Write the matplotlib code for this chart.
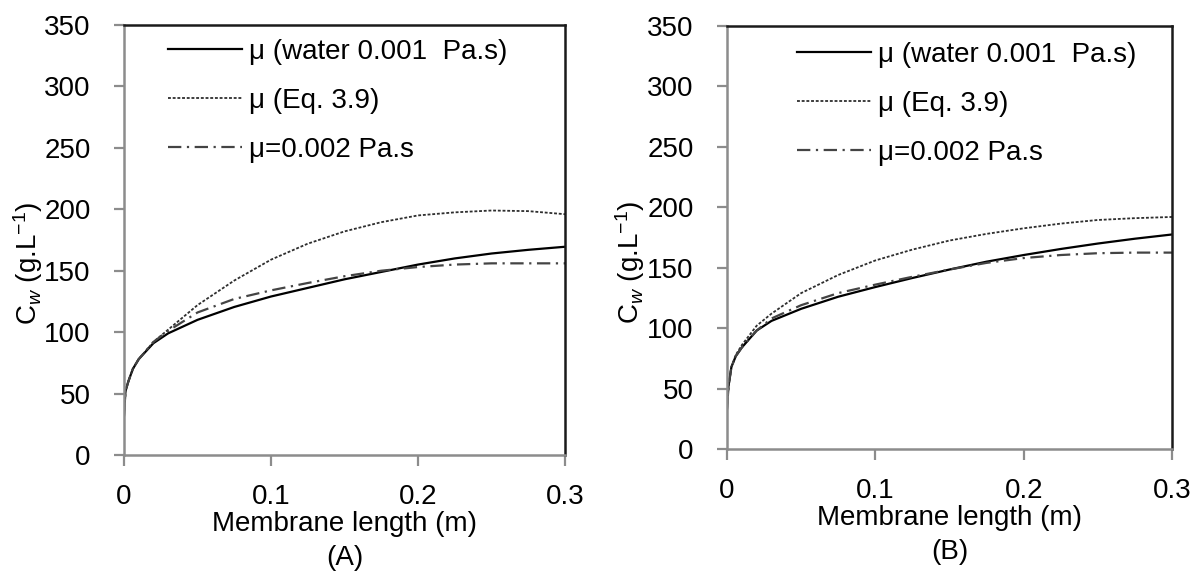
import matplotlib
matplotlib.use("Agg")
import matplotlib.pyplot as plt

plt.rcParams['font.family'] = ['Liberation Sans', 'DejaVu Sans']
plt.rcParams['mathtext.fontset'] = 'custom'
plt.rcParams['mathtext.rm'] = 'Liberation Sans'
plt.rcParams['mathtext.it'] = 'Liberation Sans:italic'

# Membrane length (m)
x = [0, 0.001, 0.003, 0.006, 0.01, 0.02, 0.03, 0.05, 0.075, 0.1, 0.125,
     0.15, 0.175, 0.2, 0.225, 0.25, 0.275, 0.3]

# Panel A  (C_w in g/L)
a_water = [32, 52, 60, 70, 78, 91, 99, 110, 120.5, 129, 136, 143, 149, 155, 160, 164, 167, 169.5]
a_eq39 = [32, 52, 60, 70, 78, 92, 102, 122, 142, 159, 172, 182, 189.5, 195, 197.5, 199, 198.5, 196]
a_mu2 = [32, 52, 60, 70, 78, 92, 101, 116, 127, 134, 140, 145.5, 150, 153, 155, 156, 156, 156]

# Panel B
b_water = [33, 52, 68, 77, 84, 98, 106, 116, 126, 134, 141.5, 148.5, 155, 160.5, 165.5, 170, 174, 177.5]
b_eq39 = [33, 52, 68, 78, 86, 102, 112, 129, 144, 156, 165, 172.5, 178, 182.6, 186.5, 189.5, 191, 192]
b_mu2 = [33, 52, 68, 77, 84, 98, 108, 119, 129, 136, 142.5, 148.5, 154, 158, 160.5, 162, 162.5, 162.5]

labels = ['μ (water 0.001  Pa.s)', 'μ (Eq. 3.9)', 'μ=0.002 Pa.s']
xticks = [0, 0.1, 0.2, 0.3]
xticklabels = ['0', '0.1', '0.2', '0.3']
yticks = [0, 50, 100, 150, 200, 250, 300, 350]
panel_names = ['(A)', '(B)']

W, H = 1198, 577
fig = plt.figure(figsize=(W / 100, H / 100), dpi=100)

FS = 20

def box(l, r, b, t):
    return [l / W, 1 - b / H, (r - l) / W, (b - t) / H]

axes_px = [(124, 565, 455, 25), (727, 1172, 449, 26)]
data = [(a_water, a_eq39, a_mu2), (b_water, b_eq39, b_mu2)]
legend_anchor = [(168, 39), (797, 42)]
ylabel_pos = [(28, 263), (630, 262)]

for i, ((l, r, b, t), (w, e, m)) in enumerate(zip(axes_px, data)):
    ax = fig.add_axes(box(l, r, b, t))
    ax.plot(x, w, color='black', lw=1.6, ls='-', label=labels[0])
    ax.plot(x, e, color='#2e2e2e', lw=1.3, ls=(0, (1.6, 1.0)), label=labels[1])
    ax.plot(x, m, color='#444444', lw=1.6, ls=(0, (6, 2.5, 1, 2.5)), label=labels[2])
    ax.set_xlim(0, 0.3)
    ax.set_ylim(0, 350)
    ax.set_xticks(xticks)
    ax.set_xticklabels(xticklabels)
    ax.set_yticks(yticks)
    for s in ['left', 'bottom']:
        ax.spines[s].set_color('#8c8c8c')
        ax.spines[s].set_linewidth(1.8)
    for s in ['top', 'right']:
        ax.spines[s].set_color('#1a1a1a')
        ax.spines[s].set_linewidth(1.8)
    ax.tick_params(axis='y', direction='out', length=7, width=1.6, color='#8c8c8c',
                   pad=17, labelsize=FS)
    ax.tick_params(axis='x', direction='out', length=8, width=1.6, color='#8c8c8c',
                   pad=13, labelsize=FS)
    lx, ly = legend_anchor[i]
    ax.legend(loc='upper left', bbox_to_anchor=(lx / W, 1 - ly / H),
              bbox_transform=fig.transFigure, frameon=False, fontsize=FS,
              handlelength=2.65, handletextpad=0.25, labelspacing=0.82,
              borderpad=0.0, borderaxespad=0)
    xc = (l + r) / 2
    fig.text(xc / W, 1 - (b + 69) / H, 'Membrane length (m)', ha='center', va='center',
             fontsize=FS)
    fig.text(xc / W, 1 - (b + 103) / H, panel_names[i], ha='center', va='center',
             fontsize=FS)
    yx, yy = ylabel_pos[i]
    fig.text(yx / W, 1 - yy / H, r'C$_{\mathit{w}}$ (g.L$^{-1}$)', rotation=90,
             ha='center', va='center', fontsize=FS)

fig.savefig('out.png', dpi=100)
